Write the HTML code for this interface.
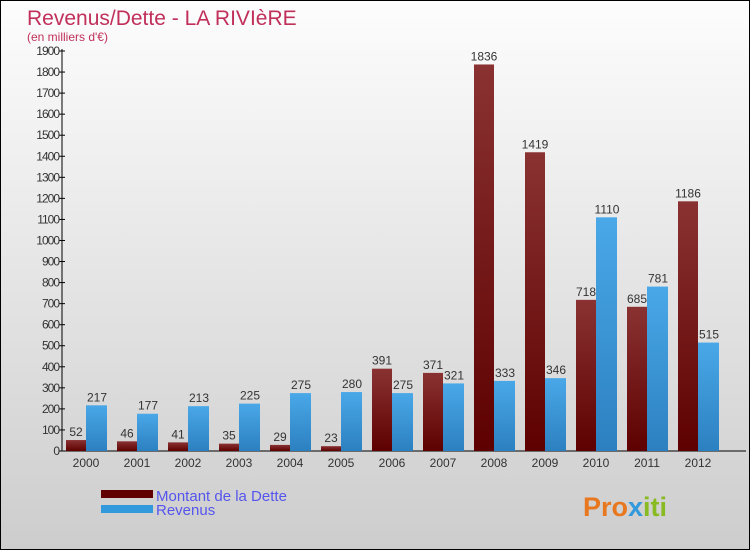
<!DOCTYPE html>
<html><head><meta charset="utf-8"><style>
body{margin:0}
#c{width:750px;height:550px;position:relative;box-sizing:border-box;border:1px solid #000;background:linear-gradient(#fdfdfd,#cdcdcd);font-family:"Liberation Sans",sans-serif;overflow:hidden}
</style></head><body>
<div id="c">
<svg id="s" width="750" height="550" style="position:absolute;left:0;top:0">
<defs>
<linearGradient id="gd" x1="0" x2="0" y1="0" y2="1"><stop offset="0" stop-color="#8a3232"/><stop offset="1" stop-color="#5e0000"/></linearGradient>
<linearGradient id="gr" x1="0" x2="0" y1="0" y2="1"><stop offset="0" stop-color="#4aa8e8"/><stop offset="1" stop-color="#2c80c0"/></linearGradient>
</defs>
<text x="26" y="24" font-size="21" fill="#c0305a">Revenus/Dette - LA RIVIèRE</text>
<text x="26" y="40" font-size="12" fill="#c0305a">(en milliers d'€)</text>
<rect x="100" y="489" width="52" height="8" fill="#600000"/>
<rect x="100" y="504" width="52" height="8" fill="#3399dd"/>
<text x="155" y="500" font-size="15" fill="#5555ee">Montant de la Dette</text>
<text x="155" y="514" font-size="15" fill="#5555ee">Revenus</text>
<text x="582" y="515" font-size="27" font-weight="bold" fill="#e87820">Pro<tspan fill="#3399dd">x</tspan><tspan fill="#88bb22">iti</tspan></text>
</svg>
</div>
<script>
const years=["2000","2001","2002","2003","2004","2005","2006","2007","2008","2009","2010","2011","2012"];
const dette=[52,46,41,35,29,23,391,371,1836,1419,718,685,1186];
const revenus=[217,177,213,225,275,280,275,321,333,346,1110,781,515];
const ticks=[0,100,200,300,400,500,600,700,800,900,1000,1100,1200,1300,1400,1500,1600,1700,1800,1900];
const s=document.getElementById('s');
const NS="http://www.w3.org/2000/svg";
const y0=450,ymax=1900,ph=400;
function Y(v){return y0-v/ymax*ph;}
function X(i){return 85+i*51;}
function mk(t,a,txt){const e=document.createElementNS(NS,t);for(const k in a)e.setAttribute(k,a[k]);if(txt!==undefined)e.textContent=txt;s.appendChild(e);return e;}
const ax=mk('line',{x1:61,y1:48,x2:61,y2:450,stroke:'#000'});


const bx=mk('line',{x1:61,y1:450,x2:745,y2:450,stroke:'#000'});


ticks.forEach(t=>{
 const l=mk('line',{x1:58,x2:64,y1:Y(t),y2:Y(t),stroke:'#000'});
 
 
 const tx=mk('text',{x:58,y:Y(t)+4,'font-size':12,fill:'#333','text-anchor':'end','letter-spacing':'-1'},t);
 
 
});
years.forEach((yr,i)=>{
 const c=X(i);
 const d=mk('rect',{x:c-20,y:Y(dette[i]),width:20,height:y0-Y(dette[i]),fill:'url(#gd)'});
 
 
 const r=mk('rect',{x:c,y:Y(revenus[i]),width:21,height:y0-Y(revenus[i]),fill:'url(#gr)'});
 
 
 const dl=mk('text',{x:c-10,y:Y(dette[i])-4,'font-size':12,fill:'#333','text-anchor':'middle'},dette[i]);
 
 
 const rl=mk('text',{x:c+11,y:Y(revenus[i])-4,'font-size':12,fill:'#333','text-anchor':'middle'},revenus[i]);
 
 
 const xl=mk('text',{x:c,y:466,'font-size':12,fill:'#333','text-anchor':'middle'},yr);
 
 
});
</script>
</body></html>
